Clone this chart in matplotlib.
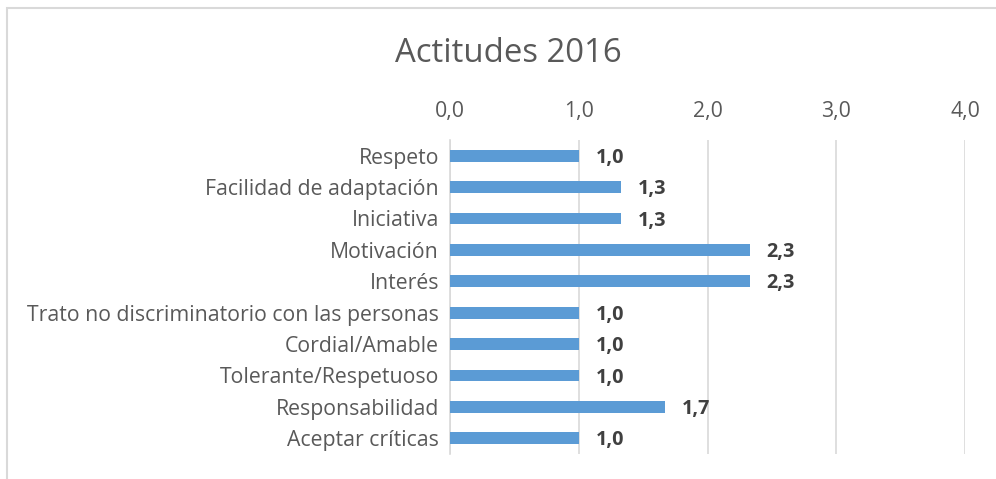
import matplotlib.pyplot as plt
from matplotlib.patches import Rectangle

# datos
categorias = ['Respeto', 'Facilidad de adaptación', 'Iniciativa', 'Motivación', 'Interés',
              'Trato no discriminatorio con las personas', 'Cordial/Amable',
              'Tolerante/Respetuoso', 'Responsabilidad', 'Aceptar críticas']
valores = [1.0, 1.33, 1.33, 2.33, 2.33, 1.0, 1.0, 1.0, 1.67, 1.0]
ticks = [0, 1, 2, 3, 4]

plt.rcParams['font.family'] = ['Open Sans', 'DejaVu Sans']

fig = plt.figure(figsize=(9.96, 4.79), dpi=100)
ax = fig.add_axes([450 / 996, 1 - 454 / 479, 515 / 996, 314 / 479])

y = range(len(categorias))
ax.barh(y, valores, height=0.38, color='#5b9bd5', zorder=3)
for i, v in enumerate(valores):
    ax.text(v + 0.13, i + 0.07, f'{v:.1f}'.replace('.', ','), va='center', ha='left',
            fontsize=14.3, fontweight='bold', color='#404040')

ax.set_xlim(0, 4)
ax.set_ylim(len(categorias) - 0.5, -0.5)
ax.set_xticks(ticks)
ax.set_xticklabels([f'{t:.1f}'.replace('.', ',') for t in ticks])
ax.xaxis.tick_top()
ax.set_yticks(list(y))
ax.set_yticklabels(categorias)
ax.tick_params(axis='both', length=0, labelsize=15.3, labelcolor='#595959')
ax.tick_params(axis='x', pad=13)
ax.tick_params(axis='y', pad=8)
ax.grid(axis='x', color='#d9d9d9', linewidth=1.2, zorder=0)
for s in ['top', 'right', 'bottom']:
    ax.spines[s].set_visible(False)
ax.spines['left'].set_color('#d9d9d9')
ax.spines['left'].set_linewidth(1.2)

fig.text(508 / 996, 1 - 53 / 479, 'Actitudes 2016', ha='center', va='center',
         fontsize=23.7, color='#595959')

# borde del gráfico
fig.patches.append(Rectangle((6.5 / 996, -0.1), 1.2, 1 - 7.5 / 479 + 0.1,
                             transform=fig.transFigure, fill=False,
                             edgecolor='#d9d9d9', linewidth=1.5))

fig.savefig('out.png', dpi=100)
